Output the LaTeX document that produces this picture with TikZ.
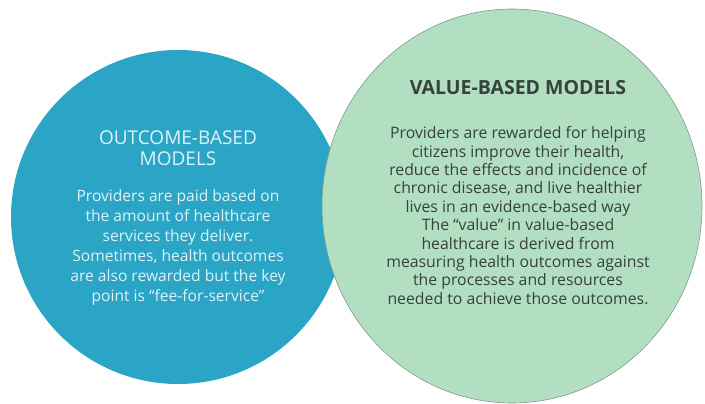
\documentclass[tikz,border=0pt]{standalone}
\usepackage{fontspec}
\setmainfont{Open Sans}
\usepackage{tikz}
\usetikzlibrary{shapes.geometric}
\usetikzlibrary{positioning}

\definecolor{outcomeBlue}{RGB}{42,165,198}
\definecolor{valueGreen}{RGB}{178,222,194}
\definecolor{valueEdge}{RGB}{128,156,138}
\definecolor{outcomeInk}{RGB}{222,242,247}
\definecolor{valueInk}{RGB}{55,66,60}

\begin{document}
\begin{tikzpicture}[x = 1pt, y = -1pt,
                    modelDisc/.style = {ellipse, inner sep = 0pt},
                    outcomeText/.style = {align = center, inner sep = 0pt, text = outcomeInk},
                    valueText/.style = {align = center, inner sep = 0pt, text = valueInk}]
    \useasboundingbox (0,0) rectangle (705,404);

    % the two discs
    \node [modelDisc, fill = outcomeBlue, minimum width = 334pt, minimum height = 334pt] (outcomeDisc) at (178,217) {};
    \node [modelDisc, fill = valueGreen, draw = valueEdge, line width = .6pt,
           minimum width = 380pt, minimum height = 394pt]                               (valueDisc) at (512,206) {};

    % outcome-based
    \node [outcomeText, font = \fontsize{19}{21}\selectfont] (outcomeHead) at (178,148) {OUTCOME-BASED\\MODELS};
    \node [outcomeText, font = \fontsize{15.6}{20}\selectfont, below = 24pt of outcomeHead] (outcomeBody)
          {Providers are paid based on\\the amount of healthcare\\services they deliver.\\Sometimes, health outcomes\\are also rewarded but the key\\point is ``fee-for-service''};

    % value-based
    \node [valueText, font = \fontsize{19.5}{22}\bfseries\selectfont] (valueHead) at (518,88) {VALUE-BASED MODELS};
    \node [valueText, font = \fontsize{15.8}{18.4}\selectfont, below = 31pt of valueHead] (valueBody)
          {Providers are rewarded for helping\\citizens improve their health,\\reduce the effects and incidence of\\chronic disease, and live healthier\\lives in an evidence-based way\\The ``value'' in value-based\\healthcare is derived from\\measuring health outcomes against\\the processes and resources\\needed to achieve those outcomes.};
\end{tikzpicture}
\end{document}
